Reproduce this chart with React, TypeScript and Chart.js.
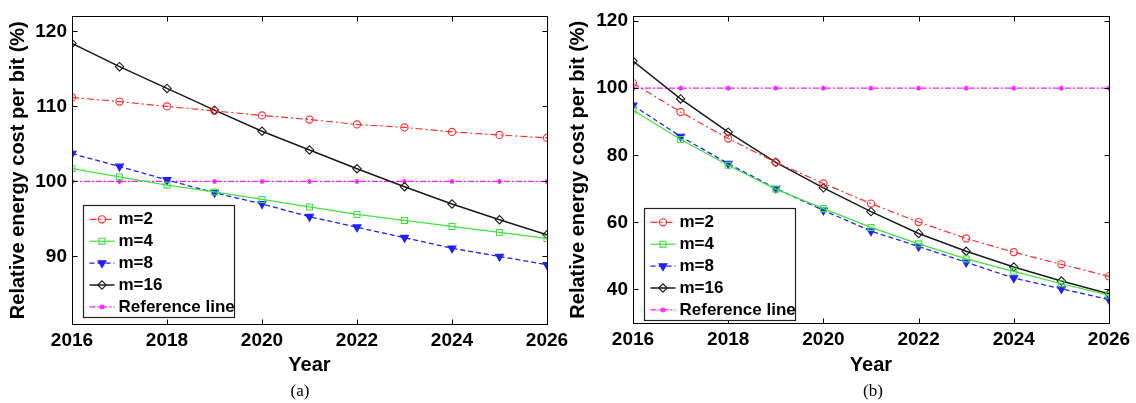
import React, { useEffect, useRef } from 'react';
import { Chart, registerables } from 'chart.js';
import { drawPoint } from 'chart.js/helpers';

Chart.register(...registerables);

// ---------- data ----------
const years = [2016, 2017, 2018, 2019, 2020, 2021, 2022, 2023, 2024, 2025, 2026];
const xTicks = [2016, 2018, 2020, 2022, 2024, 2026];
const yTicksA = [90, 100, 110, 120];
const yTicksB = [40, 60, 80, 100, 120];
const seriesLabels = ['m=2', 'm=4', 'm=8', 'm=16', 'Reference line'];

const m2A = [111.2, 110.65, 110.0, 109.4, 108.8, 108.25, 107.6, 107.2, 106.6, 106.2, 105.8];
const m4A = [101.7, 100.6, 99.5, 98.6, 97.6, 96.6, 95.6, 94.8, 94.0, 93.2, 92.4];
const m8A = [103.7, 102.0, 100.2, 98.5, 97.0, 95.3, 93.9, 92.5, 91.1, 90.0, 88.9];
const m16A = [118.4, 115.3, 112.4, 109.5, 106.7, 104.2, 101.7, 99.3, 97.0, 94.9, 92.9];
const refA = [100, 100, 100, 100, 100, 100, 100, 100, 100, 100, 100];

const m2B = [101.5, 92.9, 85.0, 77.9, 71.6, 65.6, 60.1, 55.2, 51.1, 47.5, 43.9];
const m4B = [93.5, 84.7, 77.0, 69.9, 64.1, 58.5, 53.6, 49.1, 45.4, 41.7, 38.3];
const m8B = [94.9, 85.6, 77.5, 70.1, 63.6, 57.4, 52.8, 48.1, 43.4, 40.2, 37.0];
const m16B = [108.1, 96.8, 86.9, 77.9, 70.3, 63.2, 56.7, 51.4, 46.7, 42.5, 38.7];
const refB = [100, 100, 100, 100, 100, 100, 100, 100, 100, 100, 100];

// ---------- styles ----------
const FONT = '"Liberation Sans", Arial, Helvetica, sans-serif';
const seriesStyles = [
  { color: '#ff2e2e', dash: [7, 3, 2, 3], pointStyle: 'circle', radius: 3.6, rotation: 0, filled: false, width: 1.2 },
  { color: '#3fe23f', dash: [], pointStyle: 'rect', radius: 4.2, rotation: 0, filled: false, width: 1.2 },
  { color: '#2020ff', dash: [5, 3], pointStyle: 'triangle', radius: 4.6, rotation: 180, filled: true, width: 1.3 },
  { color: '#1a1a1a', dash: [], pointStyle: 'rectRot', radius: 4.2, rotation: 0, filled: false, width: 1.5 },
  { color: '#ff1aff', dash: [6, 2, 2, 2], pointStyle: 'star', radius: 2.6, rotation: 0, filled: false, width: 1.2 },
];

const framePlugin = {
  id: 'frame',
  afterDatasetsDraw(chart: any, _args: any, opts: any) {
    const { ctx, chartArea: a, scales } = chart;
    ctx.save();
    ctx.setLineDash([]);
    ctx.strokeStyle = '#000';
    ctx.lineWidth = 1;
    const line = (x1: number, y1: number, x2: number, y2: number) => {
      ctx.beginPath();
      ctx.moveTo(x1, y1);
      ctx.lineTo(x2, y2);
      ctx.stroke();
    };
    const L = Math.round(a.left) + 0.5;
    const R = Math.round(a.right) + 0.5;
    const T = Math.round(a.top) + 0.5;
    const B = Math.round(a.bottom) + 0.5;
    ctx.strokeRect(L, T, R - L, B - T);
    const tl = 5;
    scales.x.ticks.forEach((t: any) => {
      const px = Math.round(scales.x.getPixelForValue(t.value)) + 0.5;
      line(px, B, px, B - tl);
      line(px, T, px, T + tl);
    });
    scales.y.ticks.forEach((t: any) => {
      const py = Math.round(scales.y.getPixelForValue(t.value)) + 0.5;
      line(L, py, L + tl, py);
      line(R, py, R - tl, py);
    });

    // legend
    const bx = Math.round(a.left + opts.left) + 0.5;
    const by = Math.round(a.top + opts.top) + 0.5;
    ctx.fillStyle = '#fff';
    ctx.fillRect(bx, by, opts.width, opts.height);
    ctx.strokeStyle = '#222';
    ctx.lineWidth = 1.2;
    ctx.strokeRect(bx, by, opts.width, opts.height);
    chart.data.datasets.forEach((ds: any, i: number) => {
      const y = by + opts.firstRow + i * opts.rowGap;
      const x0 = bx + 6;
      const x1 = x0 + 25;
      ctx.save();
      ctx.strokeStyle = ds.borderColor;
      ctx.lineWidth = ds.borderWidth;
      ctx.setLineDash(ds.borderDash || []);
      line(x0, y, x1, y);
      ctx.setLineDash([]);
      ctx.fillStyle = ds.pointBackgroundColor;
      ctx.strokeStyle = ds.pointBorderColor;
      ctx.lineWidth = ds.pointBorderWidth;
      drawPoint(ctx, {
        pointStyle: ds.pointStyle,
        rotation: ds.pointRotation,
        radius: ds.pointRadius,
        borderWidth: ds.pointBorderWidth,
      } as any, (x0 + x1) / 2, y);
      ctx.restore();
      ctx.fillStyle = '#000';
      ctx.font = `bold 17px ${FONT}`;
      ctx.textBaseline = 'middle';
      ctx.textAlign = 'left';
      ctx.fillText(ds.label, x1 + 4, y + 0.5);
    });
    ctx.restore();
  },
};

function makeDatasets(series: number[][]) {
  return series.map((vals, i) => {
    const s = seriesStyles[i];
    return {
      label: seriesLabels[i],
      data: years.map((x, j) => ({ x, y: vals[j] })),
      borderColor: s.color,
      backgroundColor: s.color,
      borderWidth: s.width,
      borderDash: s.dash,
      pointStyle: s.pointStyle,
      pointRadius: s.radius,
      pointRotation: s.rotation,
      pointBorderWidth: 1.1,
      pointBorderColor: s.color,
      pointBackgroundColor: s.filled ? s.color : 'rgba(0,0,0,0)',
      tension: 0,
      fill: false,
    };
  });
}

interface PanelProps {
  series: number[][];
  yMin: number;
  yMax: number;
  yTicks: number[];
  left: number;
  width: number;
  padRight: number;
  yWidth: number;
  xHeight: number;
  legendTop: number;
}

function Panel(p: PanelProps) {
  const ref = useRef<HTMLCanvasElement>(null);
  useEffect(() => {
    if (!ref.current) return;
    Chart.defaults.font.family = FONT;
    Chart.defaults.color = '#000';
    const chart = new Chart(ref.current, {
      type: 'line',
      data: { datasets: makeDatasets(p.series) as any },
      options: {
        responsive: false,
        animation: false,
        devicePixelRatio: 1,
        layout: { padding: { left: 0, top: 11, right: p.padRight, bottom: 0 } },
        plugins: {
          legend: { display: false },
          tooltip: { enabled: false },
          frame: { left: 11, top: p.legendTop, width: 151, height: 112, firstRow: 13.8, rowGap: 21.9 },
        } as any,
        scales: {
          x: {
            type: 'linear',
            min: 2016,
            max: 2026,
            afterBuildTicks: (s: any) => { s.ticks = xTicks.map((v) => ({ value: v })); },
            afterFit: (s: any) => { s.height = p.xHeight; },
            grid: { display: false, drawTicks: false },
            border: { display: false },
            ticks: {
              padding: 5,
              autoSkip: false,
              maxRotation: 0,
              color: '#000',
              font: { size: 19, weight: 'bold', family: FONT },
              callback: (v: any) => String(v),
            },
            title: {
              display: true,
              text: 'Year',
              color: '#000',
              font: { size: 20, weight: 'bold', family: FONT },
              padding: { top: 0, bottom: 26 },
            },
          },
          y: {
            type: 'linear',
            min: p.yMin,
            max: p.yMax,
            afterBuildTicks: (s: any) => { s.ticks = p.yTicks.map((v) => ({ value: v })); },
            afterFit: (s: any) => { s.width = p.yWidth; },
            grid: { display: false, drawTicks: false },
            border: { display: false },
            ticks: {
              padding: 5,
              color: '#000',
              font: { size: 19, weight: 'bold', family: FONT },
              callback: (v: any) => String(v),
            },
            title: {
              display: true,
              text: 'Relative energy cost per bit (%)',
              color: '#000',
              font: { size: 20, weight: 'bold', family: FONT },
              padding: { top: 6, bottom: 0 },
            },
          },
        },
      } as any,
      plugins: [framePlugin as any],
    });
    return () => chart.destroy();
  }, []);
  return (
    <canvas
      ref={ref}
      width={p.width}
      height={403}
      style={{ position: 'absolute', left: p.left, top: 0, width: p.width, height: 403 }}
    />
  );
}

const captionStyle: React.CSSProperties = {
  position: 'absolute',
  top: 390,
  transform: 'translate(-50%, -50%)',
  fontFamily: '"Liberation Serif", "Times New Roman", serif',
  fontSize: 17,
  lineHeight: 1,
  color: '#000',
  whiteSpace: 'nowrap',
};

export default function App() {
  return (
    <div style={{ position: 'absolute', left: 0, top: 0, width: 1136, height: 403, background: '#fff', overflow: 'hidden' }}>
      <Panel
        series={[m2A, m4A, m8A, m16A, refA]}
        yMin={81}
        yMax={122}
        yTicks={yTicksA}
        left={0}
        width={590}
        padRight={43}
        yWidth={72}
        xHeight={79}
        legendTop={189}
      />
      <Panel
        series={[m2B, m4B, m8B, m16B, refB]}
        yMin={30}
        yMax={121.4}
        yTicks={yTicksB}
        left={560}
        width={576}
        padRight={27}
        yWidth={73}
        xHeight={80}
        legendTop={191.5}
      />
      <div style={{ ...captionStyle, left: 300 }}>(a)</div>
      <div style={{ ...captionStyle, left: 873 }}>(b)</div>
    </div>
  );
}
